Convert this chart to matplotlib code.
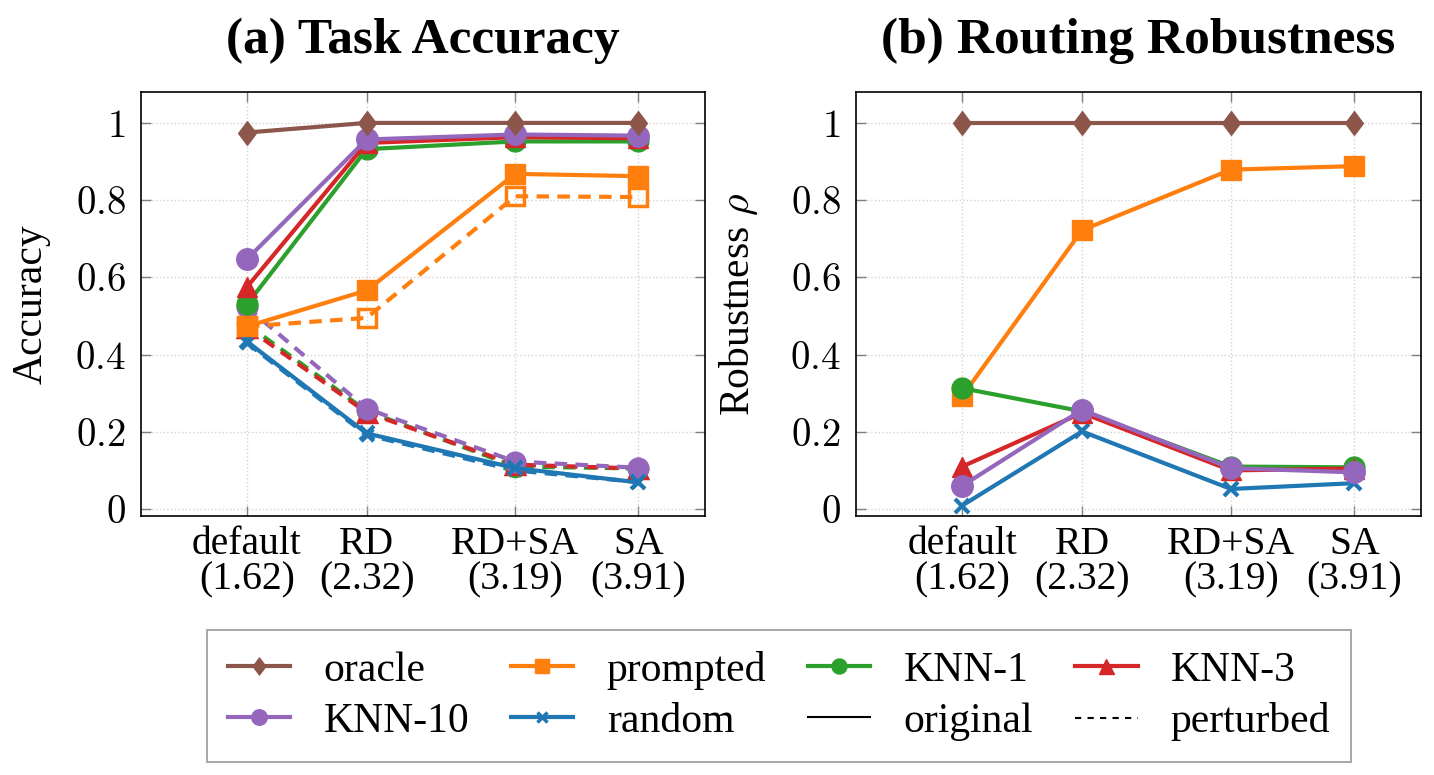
import matplotlib
matplotlib.use("Agg")
import matplotlib.pyplot as plt
from matplotlib.lines import Line2D
from matplotlib.path import Path

plt.rcParams['font.family'] = ['Liberation Serif', 'DejaVu Serif']
plt.rcParams['mathtext.fontset'] = 'cm'

# x positions are the average perturbation strength of each setting
settings = ["default", "RD", "RD+SA", "SA"]
strength = [1.62, 2.32, 3.19, 3.91]
xlabels = [f"{s}\n({v:.2f})" for s, v in zip(settings, strength)]
yticks = [0, 0.2, 0.4, 0.6, 0.8, 1.0]
ylabels = ["$0$", "$0.2$", "$0.4$", "$0.6$", "$0.8$", "$1$"]

methods = ["oracle", "prompted", "KNN-1", "KNN-3", "KNN-10", "random"]
colors = {"oracle": "#8c564b", "prompted": "#ff7f0e", "KNN-1": "#2ca02c",
          "KNN-3": "#d62728", "KNN-10": "#9467bd", "random": "#1f77b4"}

# pgfplots style diamond (a bit wider than matplotlib's thin 'd')
diamond = Path([(0, 1), (0.75, 0), (0, -1), (-0.75, 0), (0, 1)],
               [Path.MOVETO, Path.LINETO, Path.LINETO, Path.LINETO, Path.CLOSEPOLY])
markers = {"oracle": diamond, "prompted": "s", "KNN-1": "o",
           "KNN-3": "^", "KNN-10": "o", "random": "x"}
msizes = {"oracle": 17, "prompted": 14.5, "KNN-1": 15,
          "KNN-3": 15, "KNN-10": 15.5, "random": 10}

# (a) task accuracy, original prompts
acc_orig = {
    "oracle":   [0.975, 1.0, 1.0, 1.0],
    "prompted": [0.473, 0.566, 0.868, 0.862],
    "KNN-1":    [0.530, 0.932, 0.952, 0.952],
    "KNN-3":    [0.575, 0.948, 0.963, 0.960],
    "KNN-10":   [0.647, 0.957, 0.970, 0.967],
    "random":   [0.434, 0.196, 0.106, 0.069],
}
# (a) task accuracy, perturbed prompts
acc_pert = {
    "prompted": [0.473, 0.495, 0.810, 0.808],
    "KNN-1":    [0.478, 0.254, 0.110, 0.105],
    "KNN-3":    [0.470, 0.250, 0.115, 0.105],
    "KNN-10":   [0.523, 0.260, 0.123, 0.107],
    "random":   [0.430, 0.192, 0.100, 0.070],
}
# (b) routing robustness
rob = {
    "oracle":   [1.0, 1.0, 1.0, 1.0],
    "prompted": [0.292, 0.722, 0.879, 0.888],
    "KNN-1":    [0.313, 0.253, 0.110, 0.108],
    "KNN-3":    [0.110, 0.249, 0.100, 0.105],
    "KNN-10":   [0.060, 0.257, 0.106, 0.095],
    "random":   [0.009, 0.201, 0.052, 0.067],
}

fig = plt.figure(figsize=(14.34, 7.75), dpi=100)
ax1 = fig.add_axes([141/1434, 259/775, 564/1434, 424/775])
ax2 = fig.add_axes([856/1434, 259/775, 565/1434, 424/775])

lw = 3.0
for m in ["random", "KNN-1", "KNN-3", "KNN-10", "prompted"]:
    # perturbed marks: the prompted squares come out hollow, the rest filled
    face = 'none' if m == "prompted" else colors[m]
    ax1.plot(strength, acc_pert[m], color=colors[m], ls=(0, (3, 2)), lw=lw,
             marker=markers[m], ms=msizes[m] - 2, mfc=face, mew=2.5)
for m in ["random", "prompted", "KNN-1", "KNN-3", "KNN-10", "oracle"]:
    ax1.plot(strength, acc_orig[m], color=colors[m], lw=lw,
             marker=markers[m], ms=msizes[m], mew=3 if m == "random" else 1)

for m in ["prompted", "KNN-1", "random", "KNN-3", "KNN-10", "oracle"]:
    ax2.plot(strength, rob[m], color=colors[m], lw=lw,
             marker=markers[m], ms=msizes[m], mew=3 if m == "random" else 1)

for ax in (ax1, ax2):
    ax.set_xlim(1.0, 4.3)
    ax.set_ylim(-0.018, 1.08)
    ax.set_xticks(strength)
    ax.set_xticklabels(xlabels, fontsize=28.5, linespacing=0.95)
    ax.set_yticks(yticks)
    ax.set_yticklabels(ylabels, fontsize=28)
    ax.tick_params(direction='in', length=7, width=1, color='gray',
                   top=True, right=True)
    ax.tick_params(axis='x', pad=7)
    ax.tick_params(axis='y', pad=11)
    ax.grid(True, ls=':', color='lightgray', lw=1)
    for sp in ax.spines.values():
        sp.set_linewidth(1.2)

ax1.set_ylabel("Accuracy", fontsize=30)
ax1.yaxis.set_label_coords(-0.161, 0.5)
ax2.set_ylabel(r"Robustness $\rho$", fontsize=30)
ax2.yaxis.set_label_coords(-0.17, 0.5)

ax1.set_title("(a) Task Accuracy", fontsize=37, fontweight='bold', pad=28)
ax2.set_title("(b) Routing Robustness", fontsize=37, fontweight='bold', pad=28)

handles = {}
for m in methods:
    handles[m] = Line2D([], [], color=colors[m], lw=lw, marker=markers[m],
                        ms=msizes[m] * 0.72, mew=2.5 if m == "random" else 1,
                        label=m)
handles["original"] = Line2D([], [], color='black', lw=1.5, label="original")
handles["perturbed"] = Line2D([], [], color='black', lw=1.5, ls=(0, (3, 3)),
                              label="perturbed")
# legend fills column by column, so interleave the two rows
order = ["oracle", "KNN-10", "prompted", "random",
         "KNN-1", "original", "KNN-3", "perturbed"]

leg = fig.legend(handles=[handles[k] for k in order], ncol=4, loc='center',
                 bbox_to_anchor=(779/1434, 79/775), fontsize=30,
                 frameon=True, fancybox=False, edgecolor='gray',
                 handlelength=1.5, columnspacing=1.0, handletextpad=0.8,
                 borderpad=0.5, labelspacing=0.3)
leg.get_frame().set_linewidth(1.2)

fig.savefig("out.png", dpi=100)
